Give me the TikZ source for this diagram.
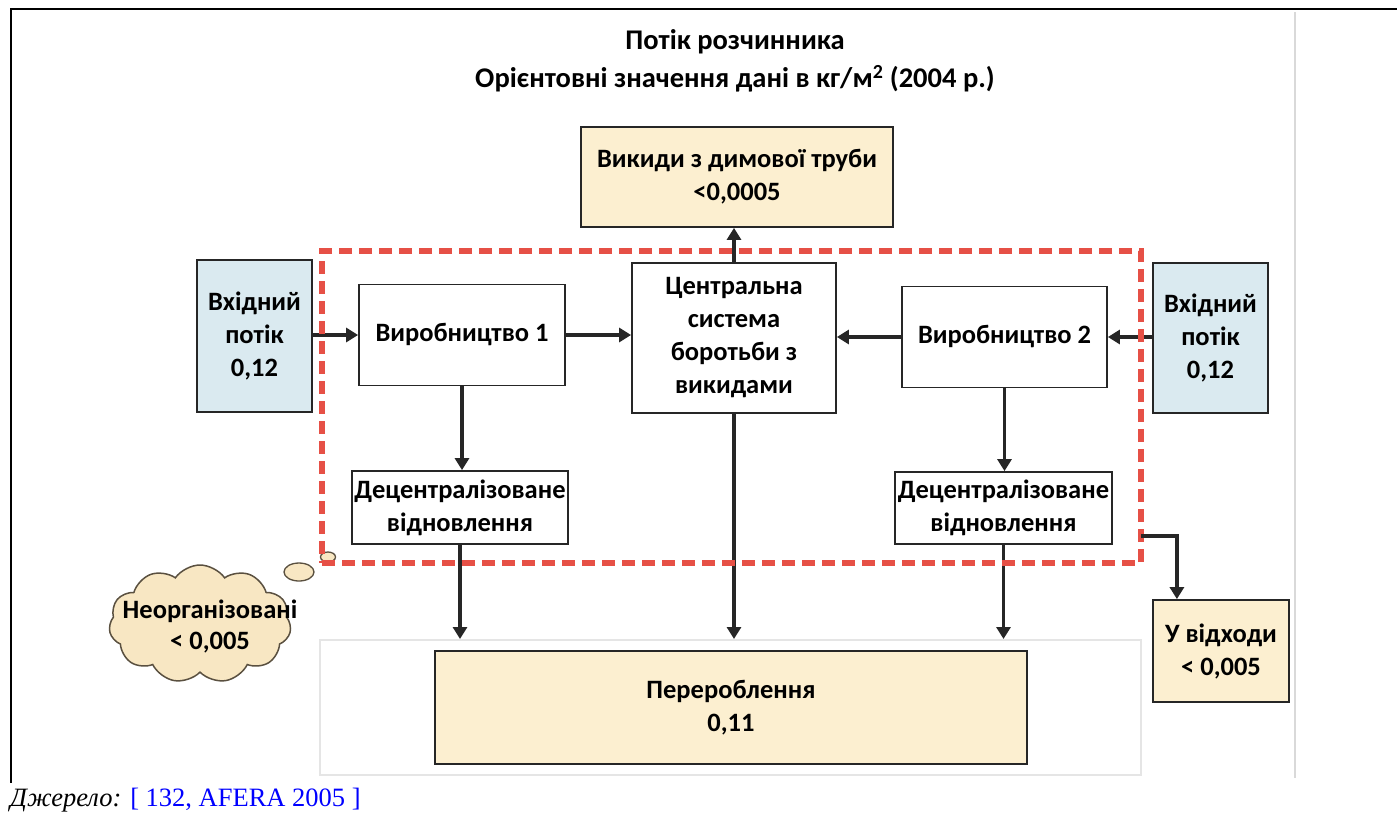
\documentclass[tikz,border=0pt]{standalone}
\usepackage{fontspec}
\setmainfont{Carlito}
\newfontfamily\tnr{Liberation Serif}
\usetikzlibrary{arrows.meta,shapes.symbols,shapes.geometric,calc}
\definecolor{wheat}{HTML}{FCEFD0}
\definecolor{inblue}{HTML}{DAEAF0}
\definecolor{cloudfill}{HTML}{F8E7C3}
\definecolor{cloudline}{HTML}{5A5040}
\definecolor{boxline}{HTML}{262626}
\definecolor{redb}{HTML}{E65046}
\definecolor{linkblue}{HTML}{0000FF}
\begin{document}
\begin{tikzpicture}[x=1pt,y=-1pt,
  box/.style={draw=boxline, line width=1.8pt, align=center, inner sep=0pt,
    font=\bfseries\fontsize{26.5}{33}\selectfont},
  flow/.style={line width=3.2pt, draw=black!85, -{Triangle[width=14pt,length=12pt]}},
  bubble/.style={ellipse, draw=cloudline, fill=cloudfill, line width=1.3pt, inner sep=0pt}]
\useasboundingbox (0,0) rectangle (1397,814);
\fill[white] (0,0) rectangle (1397,814);

% frame
\draw[line width=2.5pt] (10,9) -- (1397,9);
\draw[line width=2.5pt] (11,8) -- (11,783);
\draw[black!15, line width=2pt] (1295,12) -- (1295,778);

% title
\node[align=center, font=\bfseries\fontsize{28.5}{38}\selectfont] (title) at (735,61)
  {Потік розчинника\\Орієнтовні значення дані в кг/м\textsuperscript{2} (2004 р.)};

% background of processing
\node[draw=black!10, line width=2pt, fill=white, minimum width=821pt, minimum height=135pt] (procbg) at (730.5,707.5) {};

% boxes
\node[box, fill=wheat, minimum width=312pt, minimum height=100pt] (stack) at (737,177) {Викиди з димової труби\\<0,0005};
\node[box, fill=inblue, minimum width=115pt, minimum height=152pt] (inL) at (254.5,336) {Вхідний\\потік\\0,12};
\node[box, fill=white, minimum width=206pt, minimum height=101pt] (prod1) at (462,335) {Виробництво 1};
\node[box, fill=white, minimum width=204pt, minimum height=150pt] (central) at (734,338) {Центральна\\система\\боротьби з\\викидами};
\node[box, fill=white, minimum width=205pt, minimum height=101pt] (prod2) at (1004.5,337) {Виробництво 2};
\node[box, fill=inblue, minimum width=115pt, minimum height=150pt] (inR) at (1210.5,338) {Вхідний\\потік\\0,12};
\node[box, fill=white, minimum width=216pt, minimum height=73pt] (dec1) at (460,507.5) {Децентралізоване\\відновлення};
\node[box, fill=white, minimum width=217pt, minimum height=72pt] (dec2) at (1003.5,508) {Децентралізоване\\відновлення};
\node[box, fill=wheat, minimum width=592pt, minimum height=113pt] (proc) at (731,707.5) {Перероблення\\0,11};
\node[box, fill=wheat, minimum width=136pt, minimum height=102pt] (waste) at (1221,651) {У відходи\\< 0,005};

% cloud
\node[cloud, cloud puffs=11, cloud puff arc=110, aspect=1.55, draw=cloudline, fill=cloudfill, line width=1.5pt,
  minimum width=182pt, minimum height=118pt] (cloud) at (200,624) {};
\node[bubble, minimum width=30pt, minimum height=18pt] (b1) at (299,572) {};
\node[bubble, minimum width=15pt, minimum height=10pt] (b2) at (328,557) {};
\node[align=center, inner sep=0pt, font=\bfseries\fontsize{26.5}{31}\selectfont] (cloudtxt) at (210,626) {Неорганізовані\\< 0,005};

% arrows
\draw[flow] (inL.east |- prod1.west) -- (prod1.west);
\draw[flow] (prod1.east) -- (prod1.east -| central.west);
\draw[flow] (prod2.west) -- (prod2.west -| central.east);
\draw[flow] (inR.west |- prod2.east) -- (prod2.east);
\draw[flow] (central.north) -- (central.north |- stack.south);
\draw[flow] (prod1.south) -- (prod1.south |- dec1.north);
\draw[flow] (prod2.south) -- (prod2.south |- dec2.north);
\draw[flow] (dec1.south) -- (dec1.south |- procbg.north);
\draw[flow] (central.south) -- (central.south |- procbg.north);
\draw[flow] (dec2.south) -- (dec2.south |- procbg.north);

% boundary
\node[draw=redb, line width=5.5pt, dash pattern=on 13pt off 7pt, minimum width=819pt, minimum height=312pt, inner sep=0pt] (bnd) at (731.5,407) {};
\coordinate (wj) at (1141,536);
\draw[flow] (wj) -| ($(waste.north west)!0.18!(waste.north east)$);

% source
\node[anchor=base west, inner sep=0pt, font=\tnr\fontsize{26.5}{26.5}\selectfont] (src) at (10,806)
  {\textit{Джерело:} \textcolor{linkblue}{[ 132, AFERA 2005 ]}};
\end{tikzpicture}
\end{document}
